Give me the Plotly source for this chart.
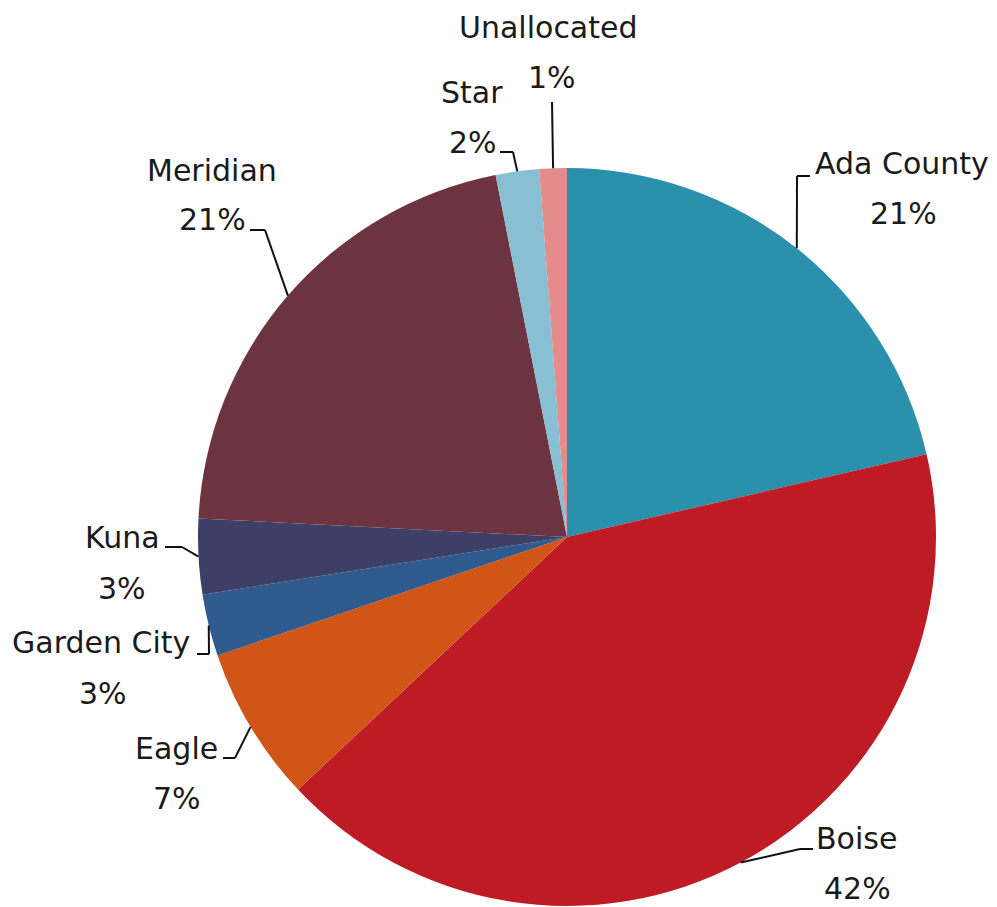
import math
import plotly.graph_objects as go

# ---- data ----
categories = ["Ada County", "Boise", "Eagle", "Garden City", "Kuna", "Meridian", "Star", "Unallocated"]
values = [21.4, 41.6, 6.8, 2.7, 3.3, 21.1, 1.9, 1.2]
colors = ["#2B90AC", "#BF1B24", "#D15516", "#2E5A8E", "#3D3F66", "#6C3441", "#89BFD3", "#E48B8B"]

# ---- layout (pixel geometry, in screen pixels) ----
W, H = 997, 907
OFF = 8  # page body margin offset
CX, CY, R = 567, 537, 369

# label layout: (elbow x, elbow y, end x, name x, name y, pct x, pct y) in screen pixels
label_layout = {
    "Ada County":  (797, 176, 810, 902, 163, 903, 213),
    "Boise":       (800, 849, 813, 856, 838, 857, 888),
    "Eagle":       (235, 758, 223, 176, 748, 177, 798),
    "Garden City": (209, 654, 197, 101, 642, 103, 693),
    "Kuna":        (182, 547, 165, 122, 537, 122, 588),
    "Meridian":    (265, 230, 250, 212, 170, 212, 220),
    "Star":        (513, 152, 500, 472, 93, 473, 142),
    "Unallocated": (552, 102, 552, 548, 28, 552, 78),
}

def px(x):
    return (x - OFF) / W

def py(y):
    return 1 - (y - OFF) / H

fig = go.Figure(go.Pie(
    labels=categories,
    values=values,
    marker=dict(colors=colors, line=dict(width=0)),
    sort=False,
    direction="clockwise",
    rotation=0,
    textinfo="none",
    hoverinfo="label+percent",
    showlegend=False,
    domain=dict(x=[px(CX - R), px(CX + R)], y=[py(CY + R), py(CY - R)]),
))

total = sum(values)
cum = 0.0
shapes = []
annotations = []
font = dict(family="DejaVu Sans", size=30, color="#1a1a1a")
for cat, v in zip(categories, values):
    mid = (cum + v / 2) / total * 2 * math.pi
    cum += v
    ex = CX + R * math.sin(mid)
    ey = CY - R * math.cos(mid)
    bx, by, endx, nx, ny, pxx, pyy = label_layout[cat]
    line = dict(color="#111111", width=2)
    shapes.append(dict(type="line", xref="paper", yref="paper",
                       x0=px(ex), y0=py(ey), x1=px(bx), y1=py(by), line=line))
    if endx != bx:
        shapes.append(dict(type="line", xref="paper", yref="paper",
                           x0=px(bx), y0=py(by), x1=px(endx), y1=py(by), line=line))
    pct = round(v / total * 100)
    annotations.append(dict(x=px(nx), y=py(ny), xref="paper", yref="paper", text=cat,
                            showarrow=False, font=font, xanchor="center", yanchor="middle"))
    annotations.append(dict(x=px(pxx), y=py(pyy), xref="paper", yref="paper", text=f"{pct}%",
                            showarrow=False, font=font, xanchor="center", yanchor="middle"))

fig.update_layout(
    width=W, height=H,
    margin=dict(l=0, r=0, t=0, b=0),
    paper_bgcolor="white",
    plot_bgcolor="white",
    shapes=shapes,
    annotations=annotations,
)

fig.write_html("out.html")
